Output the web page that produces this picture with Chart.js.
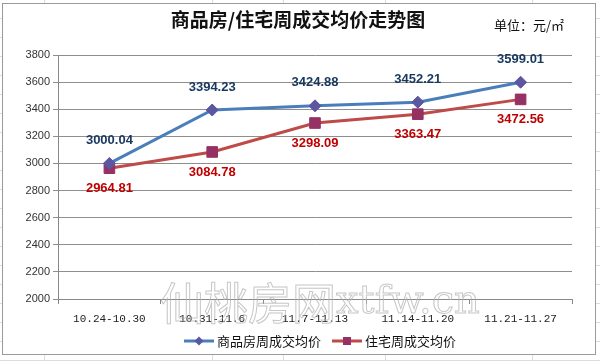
<!DOCTYPE html>
<html>
<head>
<meta charset="utf-8">
<script src="https://cdn.jsdelivr.net/npm/chart.js@4/dist/chart.umd.min.js"></script>
<style>
html,body{margin:0;padding:0;background:#fff;overflow:hidden;}
canvas{display:block;}
</style>
</head>
<body>
<canvas id="c" width="600" height="361"></canvas>
<script>
const chartTitle = '商品房/住宅周成交均价走势图';
const unitText = '单位：元/㎡';
const weeks = ['10.24-10.30', '10.31-11.6', '11.7-11.13', '11.14-11.20', '11.21-11.27'];
const seriesNames = ['商品房周成交均价', '住宅周成交均价'];
const commercialAvg = [3000.04, 3394.23, 3424.88, 3452.21, 3599.01];
const residentialAvg = [2964.81, 3084.78, 3298.09, 3363.47, 3472.56];
const yMin = 2000, yMax = 3800, yStep = 200;
const watermark1 = '仙桃房网', watermark2 = 'xtfw.cn';

const CJK = '"Noto Sans CJK SC", "Noto Sans", sans-serif';

const decorPlugin = {
  id: 'decor',
  beforeDraw(chart) {
    const ctx = chart.ctx;
    ctx.save();
    ctx.fillStyle = '#ffffff';
    ctx.fillRect(0, 0, 600, 361);
    ctx.strokeStyle = '#dcdcdc';
    ctx.lineWidth = 1;
    [44, 212, 283, 385, 532].forEach(x => {
      ctx.beginPath(); ctx.moveTo(x + 0.5, 0); ctx.lineTo(x + 0.5, 361); ctx.stroke();
    });
    for (let y = 18; y < 361; y += 19) {
      ctx.beginPath(); ctx.moveTo(0, y + 0.5); ctx.lineTo(600, y + 0.5); ctx.stroke();
    }
    ctx.fillStyle = '#ffffff';
    ctx.fillRect(2, 3, 594, 352);
    ctx.strokeStyle = '#9a9a9a';
    ctx.strokeRect(2.5, 3.5, 593, 351);
    ctx.fillStyle = '#111';
    ctx.font = 'bold 19px ' + CJK;
    ctx.textAlign = 'center';
    ctx.textBaseline = 'middle';
    ctx.fillText(chartTitle, 298, 20);
    ctx.font = '13px ' + CJK;
    ctx.textAlign = 'left';
    ctx.fillText(unitText, 494, 25);
    ctx.restore();
  },
  afterDatasetsDraw(chart) {
    const ctx = chart.ctx;
    ctx.save();
    ctx.font = 'bold 13px "Liberation Sans", Arial, sans-serif';
    ctx.textAlign = 'center';
    ctx.textBaseline = 'middle';
    const cfg = [{color: '#17375E', dy: -23}, {color: '#C00000', dy: 20}];
    chart.data.datasets.forEach((ds, i) => {
      const meta = chart.getDatasetMeta(i);
      ctx.fillStyle = cfg[i].color;
      meta.data.forEach((pt, j) => {
        ctx.fillText(ds.data[j].toFixed(2), pt.x, pt.y + cfg[i].dy);
      });
    });
    ctx.restore();
  },
  afterDraw(chart) {
    const ctx = chart.ctx;
    ctx.save();
    ctx.strokeStyle = 'rgba(175,175,175,0.7)';
    ctx.lineWidth = 1;
    ctx.textBaseline = 'alphabetic';
    ctx.textAlign = 'left';
    ctx.font = '44px ' + CJK;
    ctx.strokeText(watermark1, 160, 320);
    ctx.font = '40px "DejaVu Serif", serif';
    ctx.strokeText(watermark2, 336, 313);
    const items = [
      {x: 184, color: '#4A7EBB', mcolor: '#5B57A0', shape: 'diamond', text: seriesNames[0]},
      {x: 332, color: '#BE4B48', mcolor: '#953163', shape: 'square', text: seriesNames[1]}
    ];
    const ly = 341;
    ctx.font = '13px ' + CJK;
    ctx.textBaseline = 'middle';
    items.forEach(it => {
      ctx.strokeStyle = it.color;
      ctx.lineWidth = 3;
      ctx.beginPath(); ctx.moveTo(it.x, ly); ctx.lineTo(it.x + 30, ly); ctx.stroke();
      ctx.fillStyle = it.mcolor;
      const cx = it.x + 15;
      if (it.shape === 'diamond') {
        ctx.beginPath();
        ctx.moveTo(cx, ly - 4.5); ctx.lineTo(cx + 4.5, ly); ctx.lineTo(cx, ly + 4.5); ctx.lineTo(cx - 4.5, ly);
        ctx.closePath(); ctx.fill();
      } else {
        ctx.fillRect(cx - 4, ly - 4, 8, 8);
      }
      ctx.fillStyle = '#111';
      ctx.fillText(it.text, it.x + 33, ly);
    });
    ctx.restore();
  }
};

new Chart(document.getElementById('c'), {
  type: 'line',
  data: {
    labels: weeks,
    datasets: [
      {
        label: seriesNames[0],
        data: commercialAvg,
        borderColor: '#4A7EBB',
        borderWidth: 3,
        pointStyle: 'rectRot',
        pointRadius: 6,
        pointBackgroundColor: '#5B57A0',
        pointBorderColor: '#5B57A0',
        pointBorderWidth: 1,
        tension: 0
      },
      {
        label: seriesNames[1],
        data: residentialAvg,
        borderColor: '#BE4B48',
        borderWidth: 3,
        pointStyle: 'rect',
        pointRadius: 7.5,
        pointBackgroundColor: '#953163',
        pointBorderColor: '#953163',
        pointBorderWidth: 1,
        tension: 0
      }
    ]
  },
  options: {
    responsive: false,
    animation: false,
    devicePixelRatio: 1,
    layout: {padding: {left: 0, right: 28, top: 55, bottom: 32}},
    scales: {
      x: {
        offset: true,
        grid: {offset: true, drawOnChartArea: false, tickLength: 5, color: '#888'},
        border: {color: '#888', width: 1},
        ticks: {font: {family: '"Liberation Mono", monospace', size: 11}, color: '#222', padding: 8, maxRotation: 0, autoSkip: false},
        afterFit(s) { s.height = 30; }
      },
      y: {
        min: yMin,
        max: yMax,
        ticks: {stepSize: yStep, font: {family: '"Liberation Sans", Arial, sans-serif', size: 11}, color: '#333', padding: 3, callback: v => String(v)},
        grid: {color: '#8e8e8e', tickLength: 5, lineWidth: 1},
        border: {color: '#888', width: 1},
        afterFit(s) { s.width = 58; }
      }
    },
    plugins: {legend: {display: false}, title: {display: false}, tooltip: {enabled: false}}
  },
  plugins: [decorPlugin]
});
</script>
</body>
</html>
